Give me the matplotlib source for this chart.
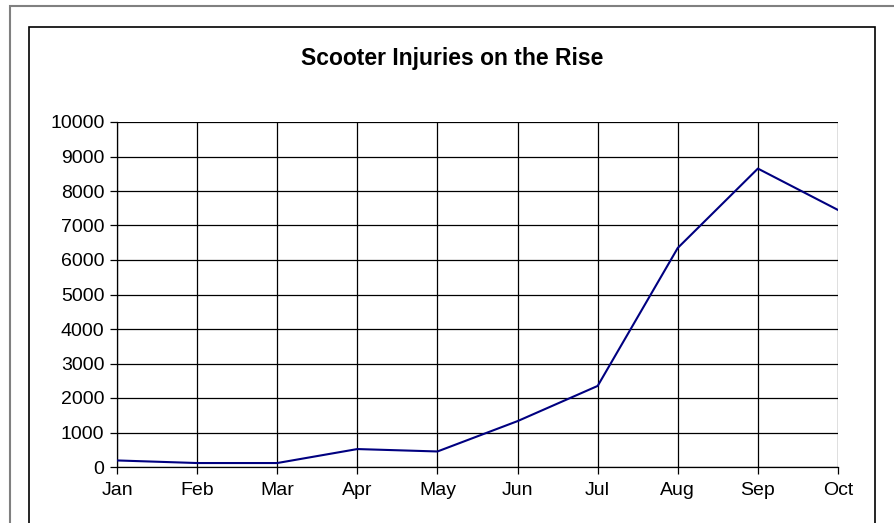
import matplotlib.pyplot as plt
from matplotlib.patches import Rectangle

plt.rcParams['font.family'] = ['Liberation Sans', 'DejaVu Sans']

months = ['Jan', 'Feb', 'Mar', 'Apr', 'May', 'Jun', 'Jul', 'Aug', 'Sep', 'Oct']
injuries = [190, 115, 115, 520, 450, 1330, 2350, 6350, 8650, 7450]
yticks = list(range(0, 10001, 1000))

W, H = 894, 523
fig = plt.figure(figsize=(W / 100, H / 100), dpi=100)

# frames around the chart (they run off the bottom edge)
fig.patches.append(Rectangle((10 / W, -0.1), 1.0, 1 - 6 / H + 0.1,
                             transform=fig.transFigure, fill=False,
                             edgecolor='#808080', linewidth=1.5))
fig.patches.append(Rectangle((29 / W, -0.1), (875 - 29) / W, 1 - 27 / H + 0.1,
                             transform=fig.transFigure, fill=False,
                             edgecolor='black', linewidth=1.2))

ax = fig.add_axes([117 / W, 1 - 467 / H, (838 - 117) / W, (467 - 122) / H])
x = list(range(len(months)))
ax.plot(x, injuries, color='#000080', linewidth=1.5, zorder=3)

ax.set_xlim(0, len(months) - 1)
ax.set_ylim(0, 10000)
ax.set_xticks(x)
ax.set_xticklabels(months)
ax.set_yticks(yticks)
ax.grid(True, color='black', linewidth=0.9)
ax.tick_params(axis='both', labelsize=14, length=5, width=0.9, color='black')
ax.tick_params(axis='x', pad=6)
ax.tick_params(axis='y', pad=4)
for side in ['top', 'right']:
    ax.spines[side].set_visible(False)
for side in ['left', 'bottom']:
    ax.spines[side].set_linewidth(0.9)

fig.text(452 / W, 1 - 59 / H, 'Scooter Injuries on the Rise', ha='center',
         va='center', fontsize=16.5, fontweight='bold')

fig.savefig('out.png', dpi=100)
